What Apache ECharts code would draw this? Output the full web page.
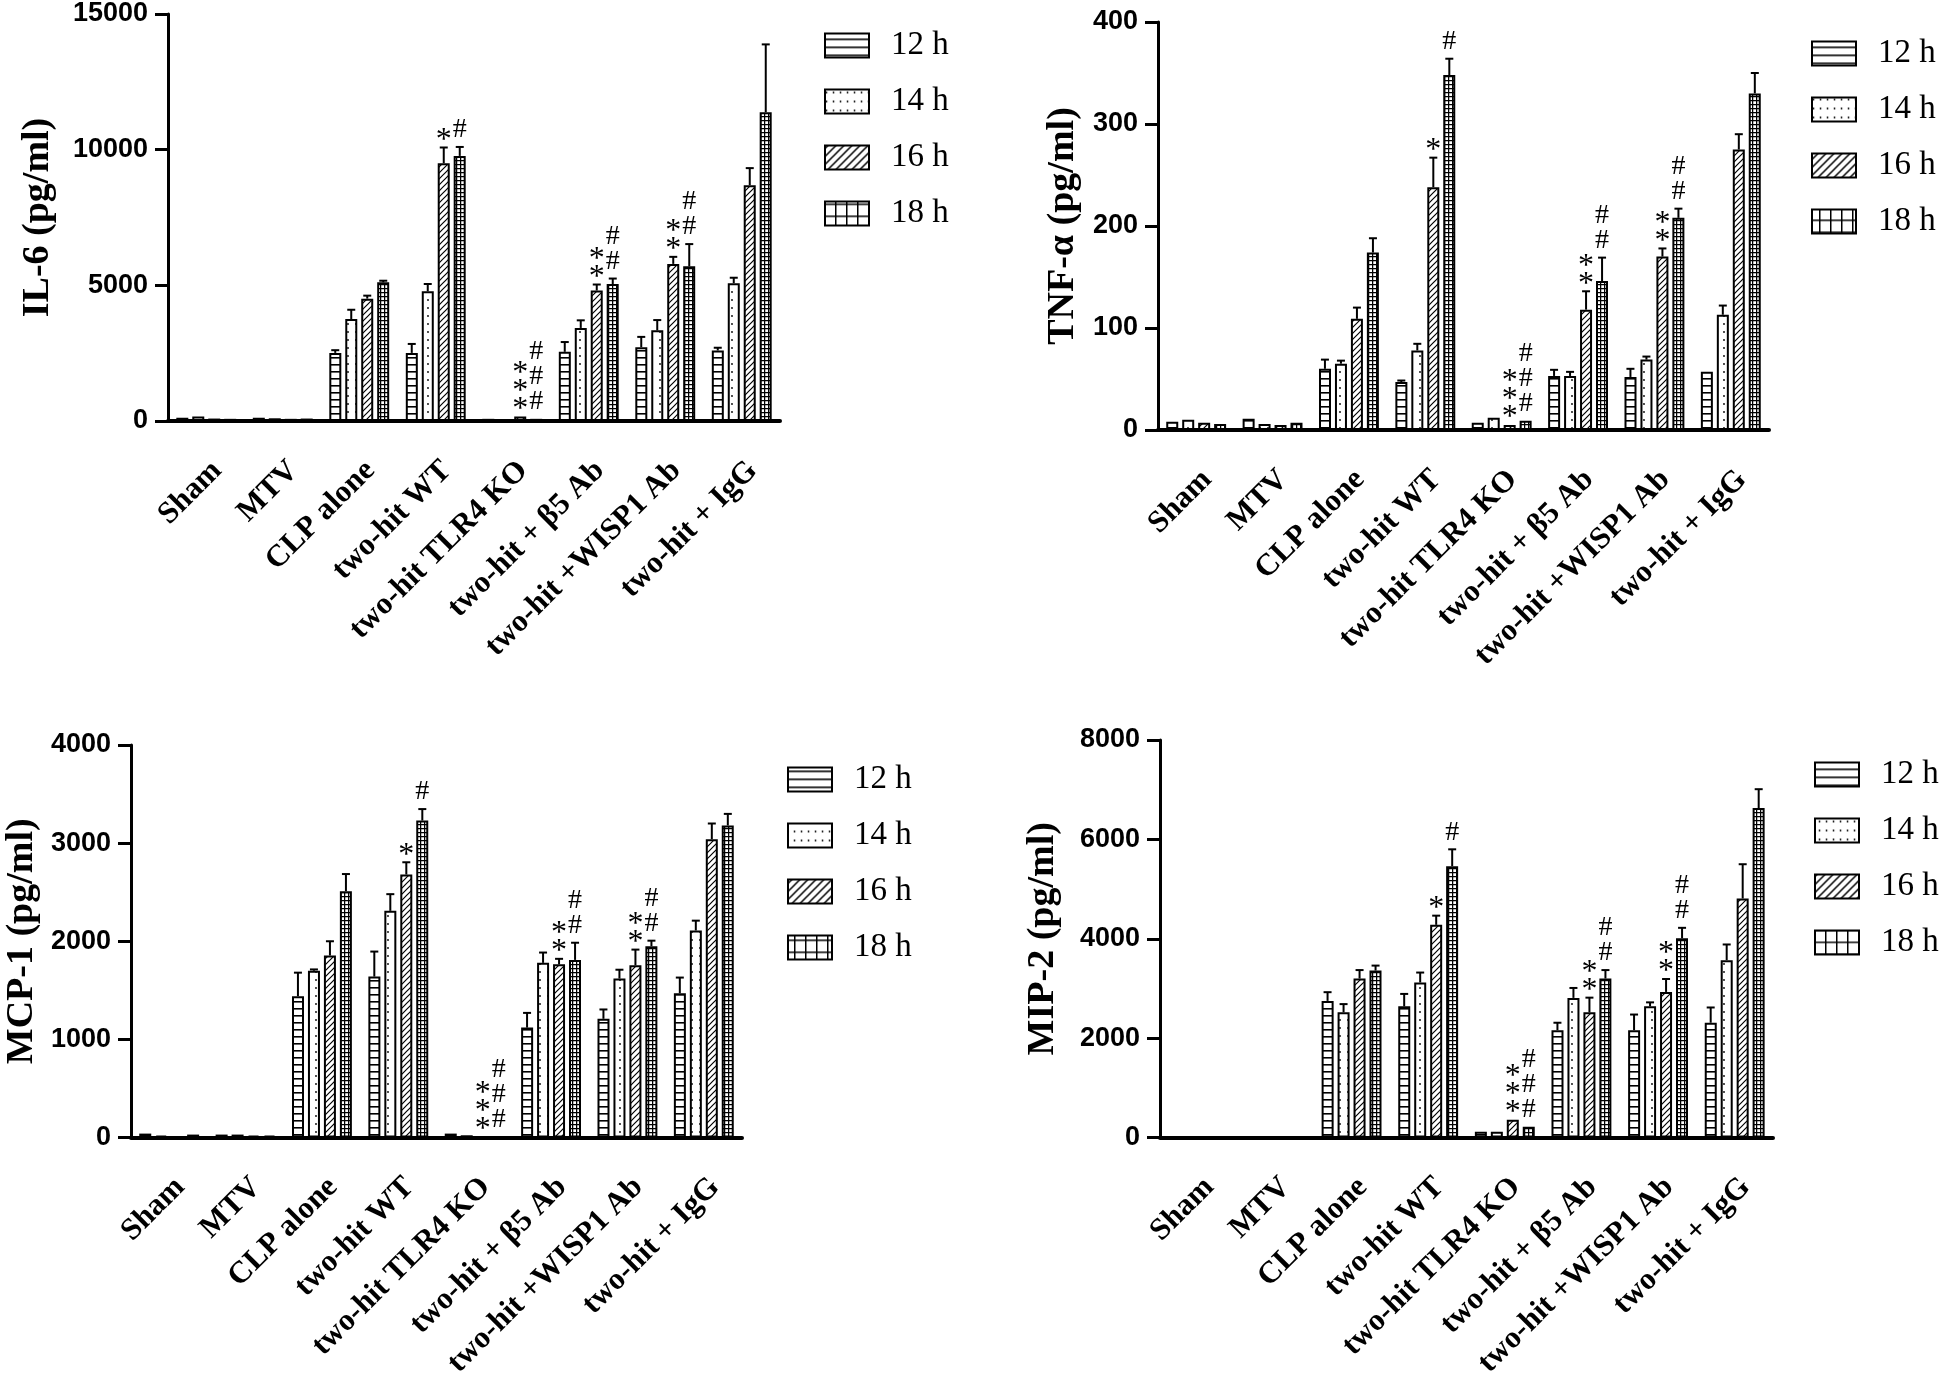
<!DOCTYPE html>
<html>
<head>
<meta charset="utf-8">
<script src="https://cdn.jsdelivr.net/npm/echarts@6/dist/echarts.min.js"></script>
<style>
html,body{margin:0;padding:0;background:#fff;}
#chart{width:1946px;height:1381px;}
</style>
</head>
<body>
<div id="chart"></div>
<script>
// ---------- DATA ----------
const CATEGORIES = ['Sham', 'MTV', 'CLP alone', 'two-hit WT', 'two-hit TLR4 KO', 'two-hit + β5 Ab', 'two-hit +WISP1 Ab', 'two-hit + IgG'];
const HOURS = ['12 h', '14 h', '16 h', '18 h'];

// IL-6 (pg/ml): rows = 12 h, 14 h, 16 h, 18 h
const IL6_MEAN = [
  [120, 120, 2510, 2510, 80, 2550, 2720, 2600],
  [170, 100, 3760, 4780, 70, 3430, 3340, 5080],
  [90, 80, 4510, 9500, 170, 4810, 5790, 8690],
  [80, 90, 5110, 9770, 80, 5050, 5700, 11380]
];
const IL6_SEM = [
  [0, 0, 100, 330, 0, 360, 380, 100],
  [0, 0, 340, 270, 0, 280, 380, 200],
  [0, 0, 110, 580, 0, 220, 260, 630],
  [0, 0, 60, 330, 0, 200, 820, 2500]
];
const IL6_MARK16 = ['', '', '', '*', '***', '**', '**', ''];
const IL6_MARK18 = ['', '', '', '#', '###', '##', '##', ''];
const IL6_TICKS = {max: 15000, interval: 5000};

// TNF-α (pg/ml)
const TNF_MEAN = [
  [8, 11, 60, 47, 7, 53, 52, 57],
  [10, 6, 65, 78, 12, 53, 69, 113],
  [7, 5, 109, 238, 5, 118, 170, 275],
  [6, 7, 174, 348, 9, 146, 208, 330]
];
const TNF_SEM = [
  [0, 0, 9, 1.5, 0, 6, 8, 0],
  [0, 0, 3, 6.5, 0, 4, 3, 9],
  [0, 0, 11, 29, 0, 18, 8, 15],
  [0, 0, 14, 16, 0, 23, 9, 20]
];
const TNF_MARK16 = ['', '', '', '*', '***', '**', '**', ''];
const TNF_MARK18 = ['', '', '', '#', '###', '##', '##', ''];
const TNF_TICKS = {max: 400, interval: 100};

// MCP-1 (pg/ml)
const MCP_MEAN = [
  [40, 30, 1440, 1640, 40, 1120, 1210, 1470],
  [20, 30, 1700, 2310, 23, 1780, 1620, 2110],
  [0, 20, 1855, 2680, 13, 1765, 1755, 3040],
  [30, 20, 2510, 3230, 13, 1810, 1950, 3180]
];
const MCP_SEM = [
  [0, 0, 240, 255, 0, 150, 95, 160],
  [0, 0, 13, 170, 0, 105, 90, 100],
  [0, 0, 145, 125, 0, 56, 160, 160],
  [0, 0, 175, 117, 0, 175, 56, 118]
];
const MCP_MARK16 = ['', '', '', '*', '***', '**', '**', ''];
const MCP_MARK18 = ['', '', '', '#', '###', '##', '##', ''];
const MCP_TICKS = {max: 4000, interval: 1000};

// MIP-2 (pg/ml)
const MIP_MEAN = [
  [0, 0, 2750, 2640, 118, 2160, 2160, 2310],
  [0, 0, 2520, 3120, 118, 2810, 2640, 3570],
  [0, 0, 3200, 4280, 360, 2520, 2930, 4810],
  [0, 0, 3360, 5460, 216, 3200, 4010, 6630]
];
const MIP_SEM = [
  [0, 0, 175, 250, 0, 150, 315, 307],
  [0, 0, 165, 200, 0, 200, 80, 315],
  [0, 0, 170, 185, 0, 295, 260, 690],
  [0, 0, 100, 340, 0, 170, 210, 380]
];
const MIP_MARK16 = ['', '', '', '*', '***', '**', '**', ''];
const MIP_MARK18 = ['', '', '', '#', '###', '##', '##', ''];
const MIP_TICKS = {max: 8000, interval: 2000};

// ---------- PATTERNS ----------
function pattern(kind, big, ox, oy) {
  const c = document.createElement('canvas');
  let w, h;
  if (kind === 0) { w = big ? 10 : 6; h = big ? 8 : 7; }
  else if (kind === 1) { w = big ? 7 : 8; h = big ? 9 : 8; }
  else if (kind === 2) { w = big ? 8 : 6; h = big ? 8 : 6; }
  else { w = big ? 11 : 4; h = big ? 12 : 4; }
  c.width = w; c.height = h;
  const g = c.getContext('2d');
  g.fillStyle = '#fff'; g.fillRect(0, 0, w, h);
  g.strokeStyle = '#000'; g.fillStyle = '#000';
  if (kind === 0) {
    g.lineWidth = 1.6; g.beginPath(); g.moveTo(0, 0.8); g.lineTo(w, 0.8); g.stroke();
  } else if (kind === 1) {
    g.beginPath(); g.arc(w / 2, big ? 8 : h / 2, 0.9, 0, Math.PI * 2); g.fill();
  } else if (kind === 2) {
    g.lineWidth = big ? 1.5 : 1.2; g.beginPath();
    g.moveTo(-1, h + 1); g.lineTo(w + 1, -1);
    g.moveTo(-1, 1); g.lineTo(1, -1);
    g.moveTo(w - 1, h + 1); g.lineTo(w + 1, h - 1);
    g.stroke();
  } else {
    g.lineWidth = big ? 1.8 : 1.3; g.beginPath();
    g.moveTo(0, 0.6); g.lineTo(w, 0.6);
    g.moveTo(0.6, 0); g.lineTo(0.6, h);
    g.stroke();
  }
  const pat = {image: c, repeat: 'repeat'};
  if (ox !== undefined) { pat.x = ox; pat.y = oy; }
  return pat;
}
const BAR_FILL = [0, 1, 2, 3].map(k => pattern(k, false));

// ---------- LAYOUT ----------
const PANELS = [
  {name: 'IL-6 (pg/ml)', mean: IL6_MEAN, sem: IL6_SEM, m16: IL6_MARK16, m18: IL6_MARK18, ticks: IL6_TICKS,
   grid: {left: 168, top: 14, width: 612, height: 407}, nameGap: 111, legend: {left: 824, top: 29}},
  {name: 'TNF-α (pg/ml)', mean: TNF_MEAN, sem: TNF_SEM, m16: TNF_MARK16, m18: TNF_MARK18, ticks: TNF_TICKS,
   grid: {left: 1158, top: 22, width: 611, height: 408}, nameGap: 76, legend: {left: 1811, top: 37}},
  {name: 'MCP-1 (pg/ml)', mean: MCP_MEAN, sem: MCP_SEM, m16: MCP_MARK16, m18: MCP_MARK18, ticks: MCP_TICKS,
   grid: {left: 131, top: 745, width: 611, height: 408}, nameGap: 90, legend: {left: 787, top: 763}},
  {name: 'MIP-2 (pg/ml)', mean: MIP_MEAN, sem: MIP_SEM, m16: MIP_MARK16, m18: MIP_MARK18, ticks: MIP_TICKS,
   grid: {left: 1160, top: 740, width: 613, height: 408}, nameGap: 98, legend: {left: 1814, top: 758}}
];

const OFFSETS = [-24, -8, 8, 24];
const LEGEND_STEP = 47;
const SERIF = '"Liberation Serif", "Times New Roman", serif';
const SANS = '"Liberation Sans", Arial, sans-serif';

const grids = [], xAxes = [], yAxes = [], series = [], legends = [];

PANELS.forEach((p, pi) => {
  grids.push(Object.assign({containLabel: false}, p.grid));
  xAxes.push({
    type: 'category', gridIndex: pi, data: CATEGORIES,
    axisLine: {lineStyle: {color: '#000', width: 4}},
    axisTick: {alignWithLabel: true, length: 13, lineStyle: {color: '#000', width: 3}},
    axisLabel: {interval: 0, rotate: 45, margin: 34, color: '#000', verticalAlign: 'top',
      fontFamily: SERIF, fontWeight: 'bold', fontSize: 31}
  });
  yAxes.push({
    type: 'value', gridIndex: pi, min: 0, max: p.ticks.max, interval: p.ticks.interval,
    name: p.name, nameLocation: 'middle', nameRotate: 90, nameGap: p.nameGap,
    nameTextStyle: {fontFamily: SERIF, fontWeight: 'bold', fontSize: 38, color: '#000'},
    axisLine: {show: true, lineStyle: {color: '#000', width: 3}},
    axisTick: {show: true, length: 13, lineStyle: {color: '#000', width: 3}},
    axisLabel: {margin: 20, color: '#000', fontFamily: SANS, fontWeight: 'bold', fontSize: 27,
      formatter: v => String(v)},
    splitLine: {show: false}
  });
  HOURS.forEach((hName, hi) => {
    series.push({
      type: 'bar', name: hName, xAxisIndex: pi, yAxisIndex: pi,
      data: p.mean[hi], barWidth: 12, barGap: '33%',
      itemStyle: {color: BAR_FILL[hi], borderColor: '#000', borderWidth: 2},
      emphasis: {disabled: true}, animation: false
    });
  });
  const errData = [];
  for (let hi = 0; hi < 4; hi++) {
    for (let ci = 0; ci < CATEGORIES.length; ci++) {
      errData.push([ci, hi, p.mean[hi][ci], p.mean[hi][ci] + p.sem[hi][ci]]);
    }
  }
  series.push({
    type: 'custom', xAxisIndex: pi, yAxisIndex: pi, z: 5, animation: false,
    encode: {x: 0, y: [2, 3]},
    data: errData,
    renderItem: function (params, api) {
      const ci = api.value(0), hi = api.value(1), mean = api.value(2), top = api.value(3);
      const b = api.coord([ci, mean]);
      const t = api.coord([ci, top]);
      const x = b[0] + OFFSETS[hi];
      const children = [];
      if (top > mean) {
        children.push({type: 'line', shape: {x1: x, y1: b[1], x2: x, y2: t[1]}, style: {stroke: '#000', lineWidth: 2}});
        children.push({type: 'line', shape: {x1: x - 4, y1: t[1], x2: x + 4, y2: t[1]}, style: {stroke: '#000', lineWidth: 2}});
      }
      const mk = hi === 2 ? p.m16[ci] : (hi === 3 ? p.m18[ci] : '');
      for (let k = 0; k < mk.length; k++) {
        const ch = mk[k];
        const isHash = ch === '#';
        const y = isHash ? (t[1] - 17 - k * 25) : (t[1] - 7 - k * 18);
        children.push({type: 'text', style: {text: ch, x: x, y: y, align: 'center', verticalAlign: 'middle',
          font: (isHash ? '28px ' : '32px ') + SERIF, fill: '#000'}});
      }
      return {type: 'group', children: children};
    }
  });
  legends.push({
    orient: 'vertical', left: p.legend.left, top: p.legend.top, padding: 0,
    itemWidth: 44, itemHeight: 24, itemGap: LEGEND_STEP - 24, selectedMode: false,
    data: HOURS.map((h, hi) => ({name: h, icon: 'rect',
      itemStyle: {color: pattern(hi, true, p.legend.left, p.legend.top + hi * LEGEND_STEP),
        borderColor: '#000', borderWidth: 2}})),
    textStyle: {fontFamily: SERIF, fontSize: 33, lineHeight: 24, color: '#000', padding: [0, 0, 0, 17]}
  });
});

const chart = echarts.init(document.getElementById('chart'), null, {renderer: 'canvas'});
chart.setOption({
  backgroundColor: '#fff',
  animation: false,
  grid: grids, xAxis: xAxes, yAxis: yAxes, legend: legends, series: series
});
</script>
</body>
</html>
